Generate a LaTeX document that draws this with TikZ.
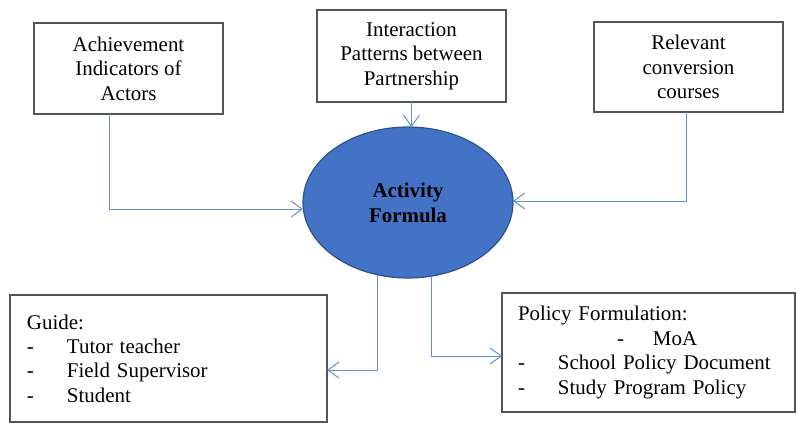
\documentclass[tikz,border=0pt]{standalone}
\usepackage{fontspec}
\setmainfont{Liberation Serif}
\usetikzlibrary{shapes.geometric,arrows.meta}
\definecolor{arrowblue}{RGB}{100,145,215}
\definecolor{ellfill}{RGB}{68,114,196}
\definecolor{elldraw}{RGB}{47,82,143}
\definecolor{boxline}{RGB}{85,85,85}
\begin{document}
\begin{tikzpicture}[x=1bp,y=-1bp,
  every node/.style={font=\fontsize{21}{24.5}\selectfont},
  topbox/.style={draw=boxline,line width=1.3bp,align=center,inner sep=0pt,outer sep=0pt},
  listbox/.style={draw=boxline,line width=1.3bp,align=left,inner ysep=0pt,outer sep=0pt},
  hub/.style={ellipse,draw=elldraw,line width=1.2bp,fill=ellfill,inner sep=0pt,outer sep=0pt,
    minimum width=210bp,minimum height=151bp,align=center,font=\fontsize{21}{25}\selectfont\bfseries},
  arr/.style={draw=arrowblue,line width=1bp,-{Straight Barb[length=11bp,width=16bp,line width=1bp]}}
]
\useasboundingbox (0,0) rectangle (797,424);
\node[topbox,minimum width=189bp,minimum height=91bp] (b1) at (128.5,68.5)
  {Achievement\\Indicators of\\Actors};
\node[topbox,minimum width=189bp,minimum height=92bp] (b2) at (411.5,56)
  {Interaction\\Patterns between\\Partnership};
\node[topbox,minimum width=189bp,minimum height=90bp] (b3) at (688.5,67)
  {Relevant\\conversion\\courses};
\node[hub] (ell) at (408,202.5) {Activity\\Formula};
\node[listbox,text width=283bp,inner xsep=17bp,minimum height=127bp] (guide) at (168.5,358.5)
  {Guide:\\
   \makebox[40bp][l]{-}Tutor teacher\\
   \makebox[40bp][l]{-}Field Supervisor\\
   \makebox[40bp][l]{-}Student};
\node[listbox,text width=261bp,inner xsep=16bp,minimum height=119bp] (policy) at (648.5,352.5)
  {Policy Formulation:\\
   \hspace*{99bp}\makebox[36bp][l]{-}MoA\\
   \makebox[40bp][l]{-}School Policy Document\\
   \makebox[40bp][l]{-}Study Program Policy};
\draw[arr] ([xshift=-19.5bp]b1.south) |- ([yshift=-6.5bp]ell.west);
\draw[arr] ([xshift=-2.5bp]b3.south) |- ([yshift=1.5bp]ell.east);
\draw[arr] (b2.south) -- (b2.south |- ell.north);
\draw[arr] (ell.247.5) |- ([yshift=-11.5bp]guide.east);
\draw[arr] (ell.288.8) |- ([yshift=-3.5bp]policy.west);
\end{tikzpicture}
\end{document}
